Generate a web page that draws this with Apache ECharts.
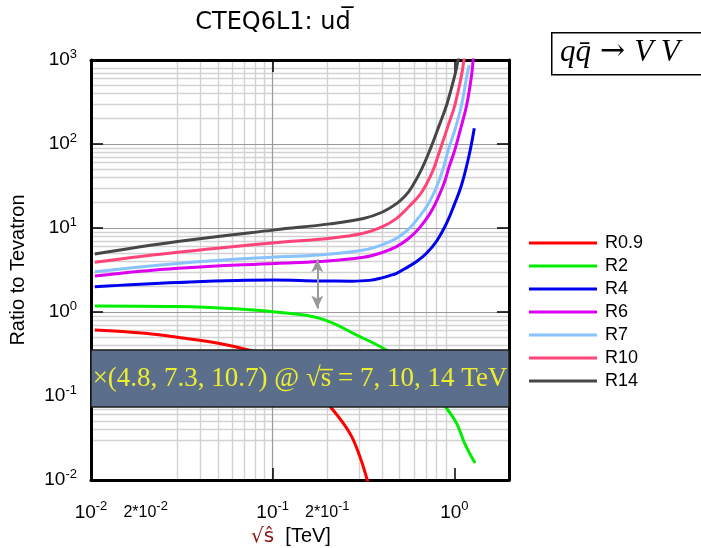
<!DOCTYPE html>
<html>
<head>
<meta charset="utf-8">
<script src="https://cdn.jsdelivr.net/npm/echarts@6/dist/echarts.min.js"></script>
<style>html,body{margin:0;padding:0;background:#fff;}#c{width:701px;height:548px;}</style>
</head>
<body>
<div id="c"></div>
<script>
// ---- data (TeV, ratio) ----
const seriesNames = ['R0.9', 'R2', 'R4', 'R6', 'R7', 'R10', 'R14'];
const xR09 = [0.0105, 0.0198, 0.0329, 0.0502, 0.0734, 0.10, 0.15, 0.211, 0.266, 0.302, 0.331, 0.345];
const yR09 = [0.61, 0.557, 0.486, 0.424, 0.353, 0.284, 0.16, 0.0714, 0.036, 0.019, 0.0102, 0.0075];
const xR2 = [0.0105, 0.030, 0.062, 0.103, 0.182, 0.302, 0.406, 0.55, 0.70, 0.907, 1.03, 1.14, 1.30];
const yR2 = [1.18, 1.16, 1.09, 1.0, 0.84, 0.51, 0.37, 0.243, 0.143, 0.0714, 0.0473, 0.0273, 0.0159];
const xR4 = [0.0105, 0.030, 0.103, 0.18, 0.27, 0.34, 0.40, 0.443, 0.481, 0.55, 0.62, 0.703, 0.80, 0.907, 1.0, 1.096, 1.207, 1.288];
const yR4 = [2.0, 2.25, 2.40, 2.34, 2.33, 2.38, 2.55, 2.72, 2.89, 3.4, 4.0, 5.0, 7.0, 11.4, 19, 32.5, 74, 154];
const xR6 = [0.0105, 0.030, 0.103, 0.18, 0.316, 0.40, 0.481, 0.56, 0.64, 0.75, 0.871, 0.94, 1.007, 1.09, 1.17, 1.245, 1.27, 1.30];
const yR6 = [2.68, 3.31, 3.79, 3.98, 4.48, 5.1, 6.0, 7.5, 9.9, 16, 32.5, 55, 85, 160, 291, 662, 1000, 1500];
const xR7 = [0.0105, 0.030, 0.103, 0.18, 0.316, 0.40, 0.481, 0.56, 0.63, 0.72, 0.807, 0.87, 0.927, 1.01, 1.096, 1.175, 1.207];
const yR7 = [3.02, 3.79, 4.52, 4.77, 5.47, 6.3, 7.54, 9.7, 13.0, 19.5, 32.5, 52, 85, 150, 291, 662, 870];
const xR10 = [0.0105, 0.030, 0.103, 0.207, 0.316, 0.40, 0.481, 0.57, 0.647, 0.698, 0.765, 0.834, 0.92, 1.007, 1.096, 1.13, 1.17];
const yR10 = [3.91, 5.14, 6.68, 7.54, 8.65, 10.3, 13.0, 18.5, 25, 32.5, 49, 85, 160, 291, 662, 1000, 1500];
const xR14 = [0.0105, 0.030, 0.103, 0.207, 0.316, 0.40, 0.481, 0.54, 0.585, 0.66, 0.734, 0.82, 0.907, 1.007, 1.05, 1.10];
const yR14 = [4.9, 6.9, 9.5, 11.2, 13.0, 15.4, 19.5, 24.5, 31, 50, 85, 160, 291, 662, 1000, 1600];
const seriesColors = ['#ff0000', '#00ee00', '#0000ee', '#dd00f0', '#88c2ff', '#ff4478', '#464646'];

// axis ranges and ticks
const xRange = [0.01, 2];
const yRange = [0.01, 1000];
const xTickVals = [0.01, 0.02, 0.1, 0.2, 1];
const xTickLabels = ['10^-2', '2*10^-2', '10^-1', '2*10^-1', '10^0'];
const xMajorTicks = [0.01, 0.1, 1];
const yTickVals = [0.01, 0.1, 1, 10, 100, 1000];
const yTickLabels = ['10^-2', '10^-1', '10^0', '10^1', '10^2', '10^3'];

// annotations
const arrowX = [0.176, 0.176];
const arrowY = [4.25, 1.10];
const bandY = [0.353, 0.074];
const bandText = '\u00d7(4.8, 7.3, 10.7) @ \u221as\u0305 = 7, 10, 14 TeV';

const L = Math.log10;
const xs = [xR09, xR2, xR4, xR6, xR7, xR10, xR14];
const ys = [yR09, yR2, yR4, yR6, yR7, yR10, yR14];

function minorVals(range) {
  const out = [];
  for (let e = Math.floor(L(range[0])); e <= Math.ceil(L(range[1])); e++) {
    for (let k = 2; k <= 9; k++) {
      const v = k * Math.pow(10, e);
      if (v >= range[0] && v <= range[1]) out.push(L(v));
    }
  }
  return out;
}

const FONT = 'Liberation Sans';
function fmtFactory(vals, labels) {
  return function (v) {
    for (let i = 0; i < vals.length; i++) {
      if (Math.abs(L(vals[i]) - v) < 1e-6) {
        const p = labels[i].split('^');
        if (p[0] === '10') return '{b|' + p[0] + '}{s|' + p[1] + '}';
        return '{c|' + p[0] + '}{t|' + p[1] + '}';
      }
    }
    return '';
  };
}
const richLab = {
  b: { fontSize: 19, fontFamily: FONT, color: '#000', lineHeight: 25 },
  s: { fontSize: 13, fontFamily: FONT, color: '#000', lineHeight: 12, verticalAlign: 'top' },
  c: { fontSize: 16, fontFamily: FONT, color: '#000', lineHeight: 25 },
  t: { fontSize: 13, fontFamily: FONT, color: '#000', lineHeight: 12, verticalAlign: 'top' }
};

const xmin = L(xRange[0]), xmax = L(xRange[1]);
const ymin = L(yRange[0]), ymax = L(yRange[1]);
const frameLine = { show: true, onZero: false, lineStyle: { color: '#000', width: 3 } };
const majorSplit = { show: true, showMinLine: false, showMaxLine: false, lineStyle: { color: '#9a9a9a', width: 1.2 } };
const minorSplit = { show: true, showMinLine: false, showMaxLine: false, lineStyle: { color: '#d2d2d2', width: 1.4 } };
const tickStyle = { show: true, inside: true, length: 12, lineStyle: { color: '#000', width: 1.5 } };

const series = seriesNames.map((n, i) => ({
  name: n, type: 'line', xAxisIndex: 0, yAxisIndex: 0,
  data: xs[i].map((x, j) => [L(x), L(ys[i][j])]),
  showSymbol: false, symbol: 'none', smooth: 0.4,
  lineStyle: { color: seriesColors[i], width: 3 }, itemStyle: { color: seriesColors[i] },
  z: 3, silent: true
}));
series.push({
  name: 'band', type: 'line', xAxisIndex: 0, yAxisIndex: 0, data: [], z: 10, silent: true,
  markArea: {
    silent: true, z: 20,
    itemStyle: { color: '#5b6e8b', borderColor: '#1c1c1c', borderWidth: 1.5, opacity: 1 },
    label: { show: true, position: 'inside', color: '#eeee30', fontFamily: 'Liberation Serif', fontSize: 27 },
    data: [[{ xAxis: xmin, yAxis: L(bandY[0]), name: bandText }, { xAxis: xmax, yAxis: L(bandY[1]) }]]
  },
  markLine: {
    silent: true, z: 20, symbol: ['arrow', 'arrow'], symbolSize: [9, 13],
    lineStyle: { color: '#999', width: 2, type: 'solid' }, label: { show: false },
    data: [[{ coord: [L(arrowX[0]), L(arrowY[0])] }, { coord: [L(arrowX[1]), L(arrowY[1])] }]]
  }
});

const option = {
  animation: false,
  backgroundColor: '#fff',
  title: {
    text: 'CTEQ6L1: ud\u0305', left: 268, top: 6, textAlign: 'center',
    textStyle: { fontFamily: 'DejaVu Sans', fontSize: 24, fontWeight: 'normal', color: '#000' }
  },
  legend: {
    orient: 'vertical', left: 524, top: 229, icon: 'rect', itemWidth: 68, itemHeight: 3, itemGap: 5,
    data: seriesNames,
    textStyle: { fontFamily: FONT, fontSize: 18, color: '#000', lineHeight: 18, padding: [0, 0, 0, 3] }
  },
  grid: { left: 91, right: 192, top: 60, bottom: 68, outerBoundsMode: 'none', containLabel: false },
  xAxis: [
    {
      type: 'value', position: 'bottom', min: xmin, max: xmax, z: 2,
      axisLine: frameLine,
      axisTick: Object.assign({ customValues: xMajorTicks.map(L) }, tickStyle),
      axisLabel: { customValues: xTickVals.map(L), formatter: fmtFactory(xTickVals, xTickLabels), rich: richLab, margin: 20 },
      splitLine: majorSplit,
      name: '{r|\u221as\u0302}  [TeV]', nameLocation: 'middle', nameGap: 44,
      nameTextStyle: { fontFamily: FONT, fontSize: 20, color: '#000', padding: [0, 18, 0, 0],
        rich: { r: { fontFamily: 'DejaVu Sans', fontSize: 20, color: '#8b1414' } } }
    },
    {
      type: 'value', position: 'bottom', min: xmin, max: xmax, z: 0,
      axisLine: { show: false, onZero: false }, axisTick: { show: false, customValues: minorVals(xRange) },
      axisLabel: { show: false }, splitLine: minorSplit
    },
    {
      type: 'value', position: 'top', min: xmin, max: xmax, z: 2,
      axisLine: frameLine, axisTick: Object.assign({ customValues: xMajorTicks.map(L) }, tickStyle),
      axisLabel: { show: false }, splitLine: { show: false }
    }
  ],
  yAxis: [
    {
      type: 'value', position: 'left', min: ymin, max: ymax, z: 2,
      axisLine: frameLine,
      axisTick: Object.assign({ customValues: yTickVals.map(L) }, tickStyle),
      axisLabel: { customValues: yTickVals.map(L), formatter: fmtFactory(yTickVals, yTickLabels), rich: richLab, margin: 14 },
      splitLine: majorSplit,
      name: 'Ratio to Tevatron', nameLocation: 'middle', nameGap: 63,
      nameTextStyle: { fontFamily: FONT, fontSize: 20, color: '#000' }
    },
    {
      type: 'value', position: 'left', min: ymin, max: ymax, z: 0,
      axisLine: { show: false, onZero: false }, axisTick: { show: false, customValues: minorVals(yRange) },
      axisLabel: { show: false }, splitLine: minorSplit
    },
    {
      type: 'value', position: 'right', min: ymin, max: ymax, z: 2,
      axisLine: frameLine, axisTick: Object.assign({ customValues: yTickVals.map(L) }, tickStyle),
      axisLabel: { show: false }, splitLine: { show: false }
    }
  ],
  graphic: [
    { type: 'rect', left: 551, top: 32, shape: { width: 170, height: 42 }, style: { fill: '#fff', stroke: '#000', lineWidth: 1.5 } },
    { type: 'text', left: 560, top: 37, style: {
        text: '{i|qq\u0304}{n|\u2192}{i|V V}',
        rich: {
          i: { fontFamily: 'Liberation Serif', fontStyle: 'italic', fontSize: 31, fill: '#000' },
          n: { fontFamily: 'DejaVu Serif', fontSize: 30, fill: '#000', padding: [0, 9, 0, 9] }
        }
      } }
  ],
  series: series
};
const chart = echarts.init(document.getElementById('c'), null, { renderer: 'canvas' });
chart.setOption(option);
</script>
</body>
</html>
